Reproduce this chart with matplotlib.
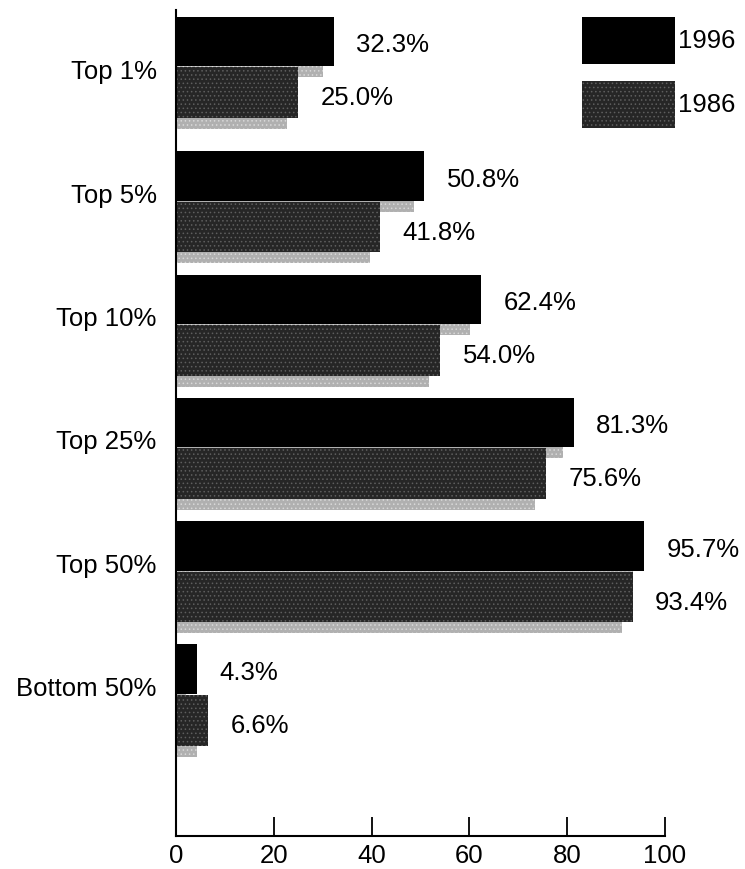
import numpy as np
import matplotlib
matplotlib.use("Agg")
import matplotlib.pyplot as plt
from matplotlib.patches import Patch

# data
groups = ["Top 1%", "Top 5%", "Top 10%", "Top 25%", "Top 50%", "Bottom 50%"]
share_1996 = [32.3, 50.8, 62.4, 81.3, 95.7, 4.3]
share_1986 = [25.0, 41.8, 54.0, 75.6, 93.4, 6.6]
x_ticks = [0, 20, 40, 60, 80, 100]

plt.rcParams["font.family"] = ["Liberation Sans", "DejaVu Sans"]
plt.rcParams["hatch.linewidth"] = 0.6
fs = 18.5

fig = plt.figure(figsize=(7.45, 8.69), dpi=100)
ax = fig.add_axes([0.2362, 0.038, 0.6564, 0.9505])

# label slots are regular; the first group's bars sit a little higher in the original
slots = np.arange(len(groups), dtype=float)
pos = slots.copy()
pos[0] -= 0.09
v96 = np.array(share_1996)
v86 = np.array(share_1986)

bar_h = 0.40
drop = 0.09       # shadow offset down
shift = 2.2       # shadow offset left (x units)

# light grey drop shadows
ax.barh(pos - bar_h + drop, v96 - shift, height=bar_h, align="edge",
        color="#b0b0b0", hatch="....", edgecolor="#d8d8d8", linewidth=0, zorder=1)
ax.barh(pos + 0.01 + drop, v86 - shift, height=0.41, align="edge",
        color="#b0b0b0", hatch="....", edgecolor="#d8d8d8", linewidth=0, zorder=1)

# main bars
ax.barh(pos - bar_h, v96, height=bar_h, align="edge", color="black",
        linewidth=0, zorder=2)
ax.barh(pos + 0.01, v86, height=0.41, align="edge", color="#262626",
        hatch="....", edgecolor="#5e5e5e", linewidth=0, zorder=2)

# value labels
for p, a, b in zip(pos, v96, v86):
    ax.text(a + 4.6, p - 0.17, f"{a:.1f}%", va="center", ha="left",
            fontsize=fs, clip_on=False)
    ax.text(b + 4.6, p + 0.26, f"{b:.1f}%", va="center", ha="left",
            fontsize=fs, clip_on=False)

ax.set_xlim(0, 100)
ax.set_ylim(6.153, -0.546)
ax.set_xticks(x_ticks)
ax.set_xticklabels([str(t) for t in x_ticks], fontsize=fs)
ax.set_yticks(slots - 0.06)
ax.set_yticklabels(groups, fontsize=fs)
ax.tick_params(axis="x", direction="in", length=14, width=1.3, pad=6)
ax.tick_params(axis="y", length=0, pad=14)

for s in ["top", "right"]:
    ax.spines[s].set_visible(False)
ax.spines["left"].set_linewidth(1.5)
ax.spines["bottom"].set_linewidth(1.5)

# legend boxes
handles = [Patch(facecolor="black", linewidth=0),
           Patch(facecolor="#262626", hatch="....", edgecolor="#5e5e5e", linewidth=0)]
fig.legend(handles, ["1996", "1986"], loc="upper left",
           bbox_to_anchor=(582 / 745, 1 - 17 / 869), frameon=False,
           fontsize=fs, handlelength=3.6, handleheight=2.45,
           handletextpad=0.15, labelspacing=0.65, borderpad=0, borderaxespad=0)

fig.savefig("out.png", dpi=100)
